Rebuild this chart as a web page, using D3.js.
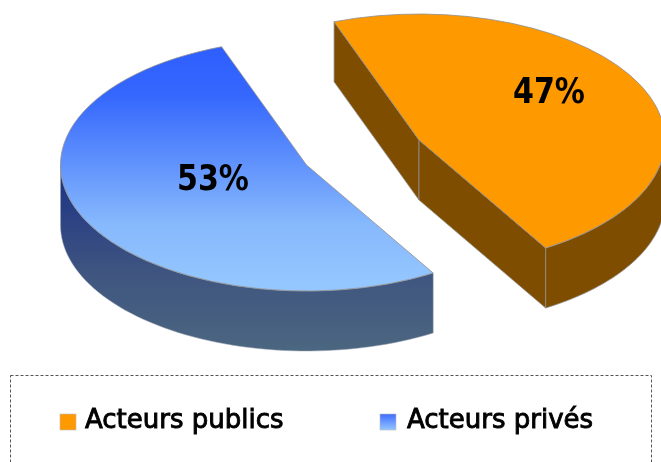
<!DOCTYPE html>
<html><head><meta charset="utf-8">
<script src="https://cdn.jsdelivr.net/npm/d3@7"></script>
<style>html,body{margin:0;padding:0;background:#fff;overflow:hidden}svg{display:block;filter:blur(.6px)}text{font-family:"DejaVu Sans",sans-serif;fill:#000}</style>
</head><body><svg id="c" width="661" height="462"></svg>
<script>
const categories = ["Acteurs publics", "Acteurs privés"];
const values = [47, 53];
const percentLabels = ["47%", "53%"];

const svg = d3.select("#c");
const rx = 246, ry = 126, depth = 60;
const centers = [[419, 140], [306.5, 165]];
const labelPos = [[549, 103], [213, 190]];
const start = -20.2 * Math.PI / 180;
const pie = d3.pie().sort(null).startAngle(start).endAngle(start + 2 * Math.PI);
const arcs = pie(values);

const defs = svg.append("defs");
const blueTop = defs.append("linearGradient").attr("id", "blueTop")
  .attr("x1", 0).attr("x2", 0).attr("y1", 0).attr("y2", 1);
blueTop.append("stop").attr("offset", 0.03).attr("stop-color", "#2f60ff");
blueTop.append("stop").attr("offset", 0.2).attr("stop-color", "#3567fd");
blueTop.append("stop").attr("offset", 0.72).attr("stop-color", "#86b8fd");
blueTop.append("stop").attr("offset", 1).attr("stop-color", "#96c8ff");
const blueSide = defs.append("linearGradient").attr("id", "blueSide").attr("gradientUnits", "userSpaceOnUse")
  .attr("x1", 0).attr("x2", 0).attr("y1", 180).attr("y2", 350);
blueSide.append("stop").attr("offset", 0).attr("stop-color", "#1f3585");
blueSide.append("stop").attr("offset", .55).attr("stop-color", "#3f5580");
blueSide.append("stop").attr("offset", 1).attr("stop-color", "#4b6680");
const swatchBlue = defs.append("linearGradient").attr("id", "swatchBlue").attr("x1", 0).attr("x2", 0).attr("y1", 0).attr("y2", 1);
swatchBlue.append("stop").attr("offset", 0).attr("stop-color", "#3f6cff");
swatchBlue.append("stop").attr("offset", 1).attr("stop-color", "#94c6ff");

const topFills = ["#ff9900", "url(#blueTop)"];
const sideFills = ["#7f4d00", "url(#blueSide)"];
const swatchFills = ["#ff9900", "url(#swatchBlue)"];
const edge = "#8f8f8f";

const arcGen = d3.arc().innerRadius(0).outerRadius(rx);
const px = (c, a) => c[0] + rx * Math.sin(a);
const py = (c, a) => c[1] - ry * Math.cos(a);
const line = d3.line();

function wall(c, a0, a1) {
  const angles = d3.range(0, 61).map(i => a0 + (a1 - a0) * i / 60);
  const upper = angles.map(a => [px(c, a), py(c, a)]);
  const lower = angles.slice().reverse().map(a => [px(c, a), py(c, a) + depth]);
  return line(upper.concat(lower)) + "Z";
}
function face(c, a) {
  const t = [px(c, a), py(c, a)];
  return line([c, t, [t[0], t[1] + depth], [c[0], c[1] + depth]]) + "Z";
}

arcs.forEach((d, i) => {
  const c = centers[i];
  const g = svg.append("g");
  if (i === 0) {
    g.append("path").attr("d", face(c, d.startAngle)).attr("fill", sideFills[i]).attr("stroke", edge).attr("stroke-width", .8);
    g.append("path").attr("d", face(c, d.endAngle)).attr("fill", sideFills[i]).attr("stroke", edge).attr("stroke-width", .8);
    g.append("path").attr("d", wall(c, Math.PI / 2, d.endAngle)).attr("fill", sideFills[i]).attr("stroke", edge).attr("stroke-width", .8);
  } else {
    g.append("path").attr("d", wall(c, d.startAngle, 3 * Math.PI / 2)).attr("fill", sideFills[i]).attr("stroke", "#9aa3b0").attr("stroke-width", .5);
  }
  g.append("path").attr("d", arcGen(d))
    .attr("transform", `translate(${c[0]},${c[1]}) scale(1,${ry / rx})`)
    .attr("fill", topFills[i]).attr("stroke", edge).attr("stroke-width", .8)
    .attr("vector-effect", "non-scaling-stroke");
  svg.append("text").attr("x", labelPos[i][0]).attr("y", labelPos[i][1])
    .attr("text-anchor", "middle").attr("font-size", 35).attr("font-weight", 700)
    .attr("textLength", 72).attr("lengthAdjust", "spacingAndGlyphs").text(percentLabels[i]);
});

svg.append("rect").attr("x", 10.5).attr("y", 375.5).attr("width", 641).attr("height", 110)
  .attr("fill", "none").attr("stroke", "#555").attr("stroke-width", 1).attr("stroke-dasharray", "3 2");

const swatchX = d3.scalePoint().domain(categories).range([60, 380]);
categories.forEach((name, i) => {
  const x = swatchX(name);
  svg.append("rect").attr("x", x).attr("y", 414).attr("width", 16).attr("height", 16)
    .attr("fill", swatchFills[i]).attr("stroke", "#bbb").attr("stroke-width", .6);
  svg.append("text").attr("x", x + 25 + (i ? 2 : 0)).attr("y", 428).attr("font-size", 26).attr("font-weight", 400)
    .attr("stroke", "#000").attr("stroke-width", .9).text(name);
});
</script></body></html>
